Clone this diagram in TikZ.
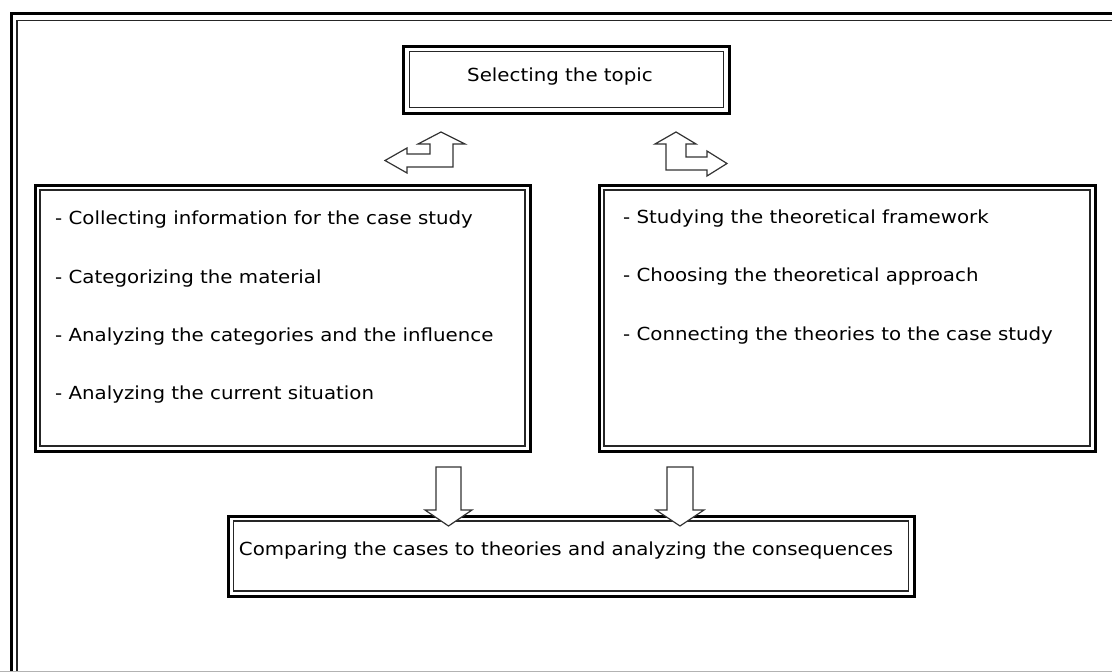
\documentclass[tikz,border=0pt]{standalone}
\usepackage{fontspec}
\setmainfont{DejaVu Sans}[FakeStretch=1.1]
\begin{document}
\begin{tikzpicture}[x=1pt,y=-1pt,
  outerline/.style={line width=3pt, draw=black},
  innerline/.style={line width=1.4pt, draw=black!85},
  boxouter/.style={outerline, rectangle, inner sep=0pt, fill=white},
  arrowshape/.style={draw=black!80, line width=1.2pt, fill=white, line join=miter},
  txt/.style={font=\fontsize{18}{21}\selectfont, inner sep=0pt, anchor=west},
  ctxt/.style={font=\fontsize{18}{21}\selectfont, inner sep=0pt}]
\useasboundingbox (0,0) rectangle (1112,672);
\clip (0,0) rectangle (1112,672);
% page frame
\draw[outerline] (11.5,13.5) rectangle (1140,700);
\draw[innerline] (17,20.5) rectangle (1140,700);
\draw[black!30, line width=1pt] (0,671.5) -- (1112,671.5);
% boxes
\node[boxouter, minimum width=325.5pt, minimum height=67pt] (top) at (566.5,79.5) {};
\draw[innerline] ([shift={(7,7)}]top.north west) rectangle ([shift={(-7,-7)}]top.south east);
\node[boxouter, minimum width=495pt, minimum height=266pt] (left) at (282.5,318) {};
\draw[innerline] ([shift={(6.5,6.5)}]left.north west) rectangle ([shift={(-6.5,-6.5)}]left.south east);
\node[boxouter, minimum width=496pt, minimum height=266pt] (right) at (847,318) {};
\draw[innerline] ([shift={(6.5,6.5)}]right.north west) rectangle ([shift={(-6.5,-6.5)}]right.south east);
\node[boxouter, minimum width=686pt, minimum height=80pt] (bottom) at (571,556) {};
\draw[innerline] ([shift={(7,6.5)}]bottom.north west) rectangle ([shift={(-7,-6.5)}]bottom.south east);
% texts
\node[ctxt] (ttop) at (560,77) {Selecting the topic};
\node[txt] (l1) at (55,220) {- Collecting information for the case study};
\node[txt] (l2) at (55,279) {- Categorizing the material};
\node[txt] (l3) at (55,337) {- Analyzing the categories and the influence};
\node[txt] (l4) at (55,395) {- Analyzing the current situation};
\node[txt] (r1) at (623,219) {- Studying the theoretical framework};
\node[txt] (r2) at (623,277) {- Choosing the theoretical approach};
\node[txt] (r3) at (623,336) {- Connecting the theories to the case study};
\node[ctxt] (tbot) at (566,551) {Comparing the cases to theories and analyzing the consequences};
% bent block arrows
\draw[arrowshape] (441,132) -- (465,144) -- (453,144) -- (453,167) -- (407,167) -- (407,173)
  -- (385,160.5) -- (407,148) -- (407,154) -- (430,154) -- (430,144) -- (418,144) -- cycle;
\draw[arrowshape] (676,132) -- (696,144) -- (686,144) -- (686,157) -- (707,157) -- (707,151)
  -- (727,163.5) -- (707,176) -- (707,170) -- (666,170) -- (666,144) -- (655,144) -- cycle;
% down block arrows
\draw[arrowshape] (436,467) -- (461,467) -- (461,510) -- (472,510) -- (448.5,526) -- (425,510) -- (436,510) -- cycle;
\draw[arrowshape] (667,467) -- (693,467) -- (693,510) -- (704,510) -- (680,526) -- (656,510) -- (667,510) -- cycle;
\end{tikzpicture}
\end{document}
